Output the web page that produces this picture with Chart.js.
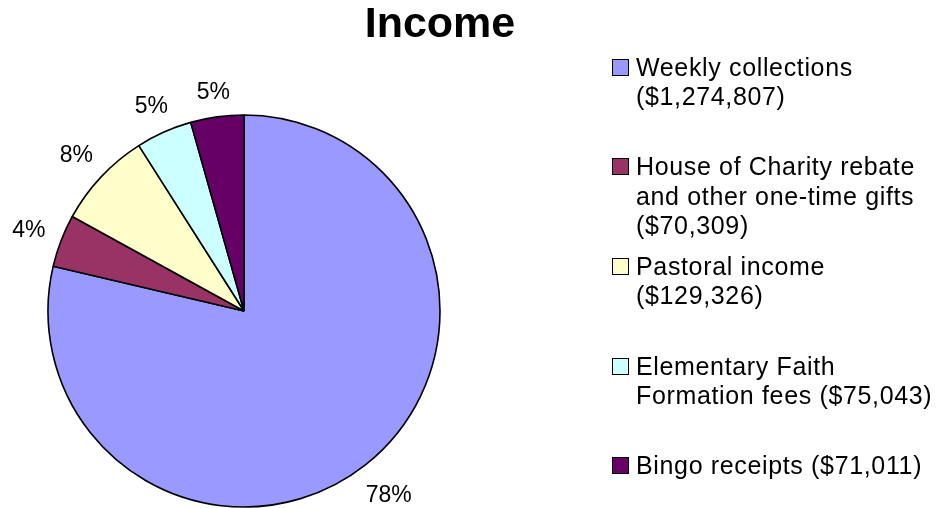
<!DOCTYPE html>
<html>
<head>
<meta charset="utf-8">
<script src="https://cdn.jsdelivr.net/npm/chart.js@4/dist/chart.umd.min.js"></script>
<style>
  html, body { margin: 0; padding: 0; background: #ffffff; }
  #wrap { position: relative; width: 936px; height: 508px; overflow: hidden; background: #fff; }
  #chart { position: absolute; left: 0; top: 0; }
  #title { position: absolute; left: 0; top: 1px; width: 880px; text-align: center;
           font: bold 43px "Liberation Sans", Arial, sans-serif; line-height: 43px; color: #000; }
  .entry { position: absolute; left: 612px; width: 324px; }
  .sw { position: absolute; left: 0; top: 6px; width: 15px; height: 15px; border: 1px solid #000; }
  .txt { position: absolute; left: 24px; width: 304px; font: 25px "Liberation Sans", Arial, sans-serif;
         letter-spacing: 0.65px; line-height: 29.5px; color: #000; white-space: normal; }
</style>
</head>
<body>
<div id="wrap">
  <canvas id="chart" width="936" height="508"></canvas>
  <div id="title"></div>
  <div id="legend"></div>
</div>
<script>
const chartTitle = "Income";
const categories = [
  "Weekly collections",
  "House of Charity rebate and other one-time gifts",
  "Pastoral income",
  "Elementary Faith Formation fees",
  "Bingo receipts"
];
const amounts = [1274807, 70309, 129326, 75043, 71011];
const pctLabels = ["78%", "4%", "8%", "5%", "5%"];
const colors = ["#9999FF", "#993366", "#FFFFCC", "#CCFFFF", "#660066"];

document.getElementById('title').textContent = chartTitle;

// HTML legend
const legend = document.getElementById('legend');
categories.forEach((c, i) => {
  const e = document.createElement('div');
  e.className = 'entry';
  e.style.top = (52.5 + i * 99.7) + 'px';
  const sw = document.createElement('div');
  sw.className = 'sw';
  sw.style.background = colors[i];
  const t = document.createElement('div');
  t.className = 'txt';
  t.textContent = c + ' ($' + amounts[i].toLocaleString('en-US') + ')';
  e.appendChild(sw); e.appendChild(t);
  legend.appendChild(e);
});

const outsideLabels = {
  id: 'outsideLabels',
  afterDatasetsDraw(chart) {
    const ctx = chart.ctx;
    const meta = chart.getDatasetMeta(0);
    ctx.save();
    ctx.font = '23px "Liberation Sans", Arial, sans-serif';
    ctx.fillStyle = '#000';
    ctx.textAlign = 'center';
    ctx.textBaseline = 'middle';
    meta.data.forEach((arc, i) => {
      const p = arc.getProps(['x', 'y', 'startAngle', 'endAngle', 'outerRadius'], true);
      const mid = (p.startAngle + p.endAngle) / 2;
      const cx = Math.cos(mid), sy = Math.sin(mid);
      const txt = pctLabels[i];
      const w = ctx.measureText(txt).width;
      const h = 17;
      const d = p.outerRadius + 16 + Math.abs(cx) * w / 2 + Math.abs(sy) * h / 2;
      ctx.fillText(txt, p.x + cx * d, p.y + sy * d + 2);
    });
    ctx.restore();
  }
};

new Chart(document.getElementById('chart'), {
  type: 'pie',
  data: {
    labels: categories,
    datasets: [{
      data: amounts,
      backgroundColor: colors,
      borderColor: '#000000',
      borderWidth: 1.6,
      radius: 196
    }]
  },
  options: {
    responsive: false,
    animation: false,
    events: [],
    layout: { padding: { left: 20, right: 468, top: 114, bottom: 0 } },
    plugins: {
      legend: { display: false },
      title: { display: false },
      tooltip: { enabled: false }
    }
  },
  plugins: [outsideLabels]
});
</script>
</body>
</html>
